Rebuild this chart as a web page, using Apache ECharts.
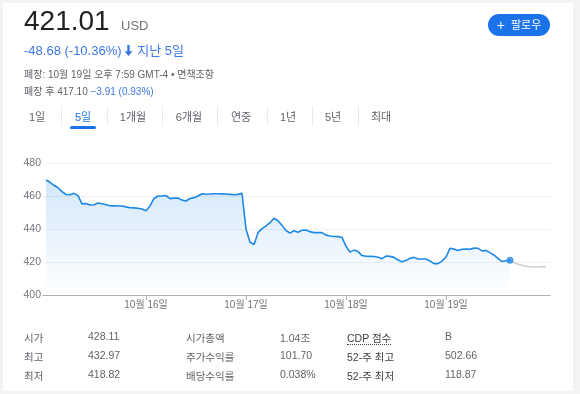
<!DOCTYPE html>
<html>
<head>
<meta charset="utf-8">
<script src="https://cdn.jsdelivr.net/npm/echarts@6/dist/echarts.min.js"></script>
<style>
  html, body { margin: 0; padding: 0; }
  body {
    width: 580px; height: 394px; background: #f1f3f4; position: relative; overflow: hidden;
    font-family: "Liberation Sans", Arial, "Noto Sans CJK KR", sans-serif; color: #202124;
  }
  .card { position: absolute; left: 3px; top: 3px; width: 570px; height: 388px; background: #fff; }
  #chart { position: absolute; left: 0; top: 0; width: 580px; height: 394px; }
  .t { position: absolute; white-space: nowrap; }
  .price { left: 24px; top: 5px; font-size: 28px; }
  .cur { left: 121px; top: 18px; font-size: 13px; color: #70757a; }
  .chg { left: 24px; top: 40px; font-size: 13px; color: #3b78e7; }
  .chg svg { vertical-align: -1px; margin: 0 1px 0 2px; }
  .meta { left: 24px; font-size: 10px; color: #5f6368; }
  .blue { color: #3b78e7; }
  .follow {
    left: 488px; top: 14px; width: 62px; height: 22px; border-radius: 11px; background: #1a73e8;
    color: #fff; font-size: 11px; line-height: 22px; text-align: center;
  }
  .follow b { font-size: 14px; font-weight: normal; vertical-align: -1px; }
  .tab { top: 108px; font-size: 11px; color: #5f6368; transform: translateX(-50%); }
  .tab.on { color: #1a73e8; }
  .sep { position: absolute; top: 106px; width: 1px; height: 20px; background: #e8eaed; }
  .bar { position: absolute; left: 70px; top: 126px; width: 26px; height: 3px; border-radius: 2px; background: #1a73e8; }
  .tb { font-size: 10.5px; color: #5f6368; }
  .dk { color: #3c4043; }
  .cdp { border-bottom: 1px dotted #3c4043; }
</style>
</head>
<body>
<div class="card"></div>
<div id="chart"></div>

<div class="t price">421.01</div>
<div class="t cur">USD</div>
<div class="t chg">-48.68 (-10.36%)<svg width="9" height="11" viewBox="0 0 9 11"><path d="M3.3 0h2.4v6.2h2.8L4.5 11 0.5 6.2h2.8z" fill="#3b78e7"/></svg> 지난 5일</div>
<div class="t meta" style="top:66px">폐장: 10월 19일 오후 7:59 GMT-4 • 면책조항</div>
<div class="t meta" style="top:83px">폐장 후 417.10 <span class="blue">−3.91 (0.93%)</span></div>
<div class="t follow"><b>+</b>&nbsp; 팔로우</div>

<div id="tabs"></div>
<div class="bar"></div>

<div id="stats"></div>

<script>
  // 5-day price, 25 samples per day
  const pointsPerDay = 25;
  const dayLabels = ['10월 16일', '10월 17일', '10월 18일', '10월 19일'];
  const yTicks = [400, 420, 440, 460, 480];

  const price = [
    469.7, 468.3, 466.5, 465, 462.7, 460.9, 460.8, 461.6, 460.2, 455.2,
    455.4, 454.5, 454.7, 455.8, 455.3, 454.7, 454.1, 454, 453.9, 453.9,
    453.4, 452.9, 452.8, 452.6, 452.1,
    451, 454, 458.5, 460, 460, 460.3, 458.4, 458.7, 458.8, 457.5,
    457, 458.5, 459, 460, 461.4, 461.1, 461.2, 461.4, 461.4, 461.3,
    461.2, 461, 460.8, 461, 461.6,
    440, 432, 430.5, 437.8, 440.2, 441.9, 443.8, 446.5, 445, 442.2,
    439.1, 437.5, 439, 438, 439.2, 439.4, 438.4, 437.8, 437.8, 437.8,
    436.3, 435.8, 435.5, 435.4, 434.9,
    429.5, 426, 427.2, 426.3, 423.9, 423.5, 423.4, 423.3, 422.9, 422,
    423.6, 423.4, 422.8, 421.2, 420.2, 420.9, 422.2, 422.8, 421.8, 421.8,
    421.8, 420.6, 419, 419, 420.5,
    423, 428.3, 427.8, 427, 427.7, 427.8, 427.7, 428.4, 428.3, 426.7,
    427, 425.7, 424.1, 422.2, 420.3, 420.8, 421.01,
  ];
  const afterHours = [421.01, 419.6, 418.6, 418, 417.4, 417.1, 416.9, 416.9, 417.2, 417.1];

  const tabNames = ['1일', '5일', '1개월', '6개월', '연중', '1년', '5년', '최대'];
  const tabX = [37, 83, 133, 189, 241, 288, 333, 381];
  const sepX = [61, 107, 162, 217, 267, 312, 358];

  const statLabels1 = ['시가', '최고', '최저'];
  const statValues1 = ['428.11', '432.97', '418.82'];
  const statLabels2 = ['시가총액', '주가수익률', '배당수익률'];
  const statValues2 = ['1.04조', '101.70', '0.038%'];
  const statLabels3 = ['CDP 점수', '52-주 최고', '52-주 최저'];
  const statValues3 = ['B', '502.66', '118.87'];

  // html bits
  const tabs = document.getElementById('tabs');
  tabNames.forEach((name, i) => {
    const el = document.createElement('div');
    el.className = 't tab' + (i === 1 ? ' on' : '');
    el.style.left = tabX[i] + 'px';
    el.textContent = name;
    tabs.appendChild(el);
  });
  sepX.forEach((x) => {
    const el = document.createElement('div');
    el.className = 'sep';
    el.style.left = x + 'px';
    tabs.appendChild(el);
  });

  const stats = document.getElementById('stats');
  const cols = [
    [statLabels1, 24, ''], [statValues1, 88, ''],
    [statLabels2, 186, ''], [statValues2, 280, ''],
    [statLabels3, 347, 'dk'], [statValues3, 445, ''],
  ];
  const rowTop = [330, 349, 368];
  cols.forEach(([items, x, cls]) => {
    items.forEach((txt, r) => {
      const el = document.createElement('div');
      el.className = 't tb ' + cls;
      el.style.left = x + 'px';
      el.style.top = rowTop[r] + 'px';
      if (txt === 'CDP 점수') el.innerHTML = '<span class="cdp">' + txt + '</span>';
      else el.textContent = txt;
      stats.appendChild(el);
    });
  });

  // chart
  const blue = '#1e88e5';
  const lastIdx = price.length - 1;
  const mainData = price.map((v, i) => [i / pointsPerDay, v]);
  const afterData = afterHours.map((v, i) => [(lastIdx + i) / pointsPerDay, v]);

  const chart = echarts.init(document.getElementById('chart'));
  chart.setOption({
    animation: false,
    grid: { left: 43, right: 30, top: 163, height: 132 },
    xAxis: {
      type: 'value',
      min: -0.03,
      max: 5.04,
      axisLine: { lineStyle: { color: '#b0b0b0' } },
      axisTick: { customValues: [1, 2, 3, 4], length: 5, lineStyle: { color: '#b0b0b0' } },
      axisLabel: {
        customValues: [1, 2, 3, 4],
        formatter: (v) => dayLabels[Math.round(v) - 1] || '',
        color: '#70757a',
        fontSize: 10,
        margin: 5,
        fontFamily: '"Liberation Sans", Arial, "Noto Sans CJK KR"',
      },
      splitLine: { show: false },
    },
    yAxis: {
      type: 'value',
      min: yTicks[0],
      max: yTicks[yTicks.length - 1],
      interval: 20,
      axisLine: { show: false },
      axisTick: { show: false },
      axisLabel: { color: '#70757a', fontSize: 10.5, margin: 2, fontFamily: '"Liberation Sans", Arial' },
      splitLine: { lineStyle: { color: '#f1f1f1' } },
    },
    series: [
      {
        type: 'line',
        data: mainData,
        showSymbol: false,
        lineStyle: { color: blue, width: 1.6 },
        areaStyle: {
          color: new echarts.graphic.LinearGradient(0, 0, 0, 1, [
            { offset: 0, color: 'rgba(30,136,229,0.28)' },
            { offset: 1, color: 'rgba(30,136,229,0)' },
          ]),
        },
        z: 3,
      },
      {
        type: 'line',
        data: afterData,
        showSymbol: false,
        lineStyle: { color: '#cfcfcf', width: 1.5 },
        z: 2,
      },
      {
        type: 'scatter',
        data: [mainData[lastIdx]],
        symbolSize: 7,
        itemStyle: { color: blue },
        z: 4,
      },
    ],
  });
</script>
</body>
</html>
